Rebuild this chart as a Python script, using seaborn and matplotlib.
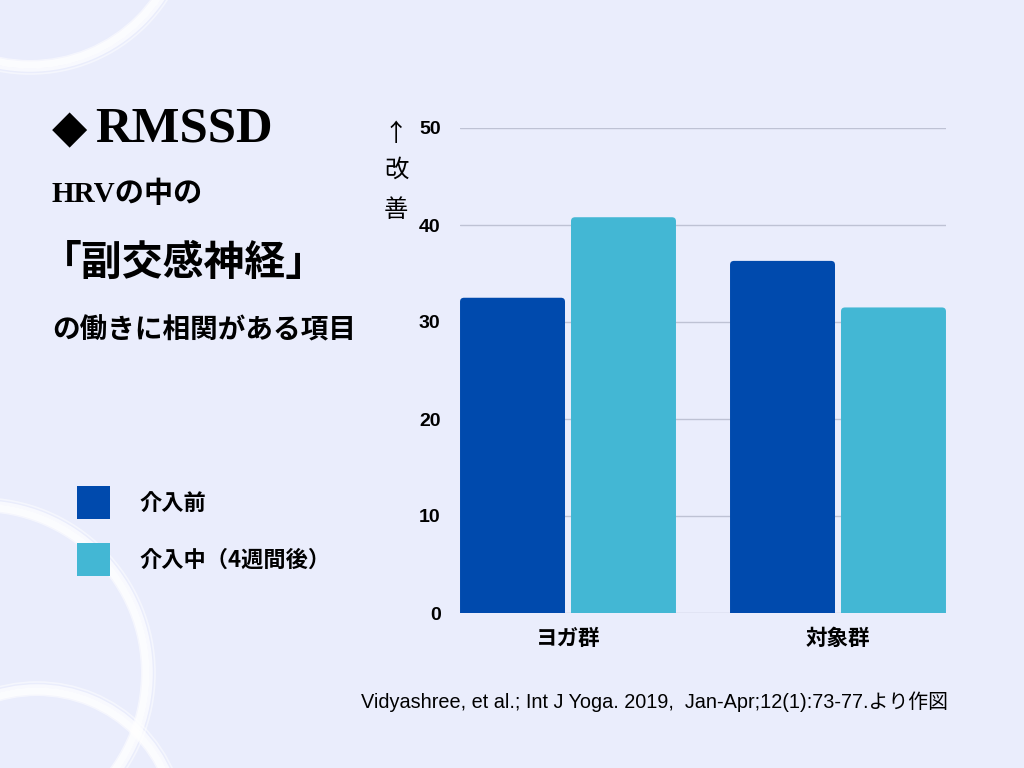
import pandas as pd
import matplotlib.pyplot as plt
import seaborn as sns
from matplotlib.patches import Patch, Arc, FancyBboxPatch

# chart values
groups = ["ヨガ群", "対象群"]
phases = ["介入前", "介入中（4週間後）"]
before = [32.5, 36.3]
after = [40.8, 31.5]
yticks = [0, 10, 20, 30, 40, 50]

bg = "#EAEDFC"
dark_blue = "#004AAD"
light_blue = "#43B7D4"

sns.set_theme(style="white")
plt.rcParams["font.family"] = ["Noto Sans CJK JP", "DejaVu Sans"]
plt.rcParams["text.color"] = "black"

df = pd.DataFrame({
    "group": groups * 2,
    "phase": [phases[0]] * len(groups) + [phases[1]] * len(groups),
    "rmssd": before + after,
})

fig = plt.figure(figsize=(10.24, 7.68), dpi=100)
fig.patch.set_facecolor(bg)

# decorative white brush circles (pixel coordinates)
deco = fig.add_axes([0, 0, 1, 1])
deco.set_xlim(0, 1024)
deco.set_ylim(768, 0)
deco.axis("off")
deco.set_zorder(0)
for cx, cy, r in [(30, -90, 158), (-20, 673, 169), (37, 831, 143)]:
    for dr, lw, a in [(-7, 1.5, 0.55), (-3, 5, 0.85), (2, 2.5, 0.7), (6, 1.2, 0.5)]:
        deco.add_patch(Arc((cx, cy), 2 * (r + dr), 2 * (r + dr), color="white",
                           lw=lw, alpha=a))

# main bar chart
ax = fig.add_axes([460 / 1024, 1 - 613 / 768, 486 / 1024, 485 / 768])
ax.set_zorder(1)
ax.set_facecolor("none")
sns.barplot(data=df, x="group", y="rmssd", hue="phase", order=groups, hue_order=phases,
            palette=[dark_blue, light_blue], saturation=1, width=0.822, gap=0.054,
            linewidth=0, edgecolor="none", legend=False, ax=ax)
ax.set_xlim(-0.4, 1.4)
ax.set_ylim(0, 50)

# give the bars slightly rounded tops (bottom corners hidden below the axis)
x_px = 486 / 1.8
y_px = 485 / 50
for bar in list(ax.patches):
    x, w, h = bar.get_x(), bar.get_width(), bar.get_height()
    rounded = FancyBboxPatch((x, -2), w, h + 2,
                             boxstyle=f"round,pad=0,rounding_size={4 / x_px}",
                             mutation_aspect=x_px / y_px,
                             facecolor=bar.get_facecolor(), edgecolor="none")
    bar.remove()
    ax.add_patch(rounded)

ax.set_yticks(yticks)
ax.set_yticklabels([str(t) for t in yticks], family=["Liberation Sans", "DejaVu Sans"],
                   fontweight="bold", fontsize=14)
ax.set_xticks(range(len(groups)))
ax.set_xticklabels(groups, fontweight="bold", fontsize=15.5)
ax.tick_params(axis="y", length=0, pad=14, colors="black")
ax.tick_params(axis="x", length=0, pad=11, colors="black")
ax.set_xlabel("")
ax.set_ylabel("")
ax.yaxis.grid(True, color="#BEC2D4", lw=1)
ax.xaxis.grid(False)
ax.set_axisbelow(True)
sns.despine(ax=ax, left=True, bottom=True)

# vertical y label
for ch, y in zip(["↑", "改", "善"], [134, 170, 210]):
    fig.text(396 / 1024, 1 - y / 768, ch, fontsize=17.5, ha="center", va="center")

# left-side headings
fig.text(52 / 1024, 1 - 142 / 768, "◆", fontsize=33, fontweight="bold",
         family="DejaVu Serif", va="baseline", ha="left")
fig.text(95 / 1024, 1 - 142 / 768, "RMSSD", fontsize=36.5, fontweight="bold",
         family=["Liberation Serif", "DejaVu Serif"], va="baseline", ha="left")
fig.text(52 / 1024, 1 - 202 / 768, "HRVの中の", fontsize=21, fontweight="bold",
         family=["Liberation Serif", "Noto Sans CJK JP"], va="baseline", ha="left")
fig.text(41 / 1024, 1 - 263 / 768, "「副交感神経」", fontsize=29.4, fontweight="bold",
         va="center", ha="left")
fig.text(52 / 1024, 1 - 330 / 768, "の働きに相関がある項目", fontsize=19.9, fontweight="bold",
         va="center", ha="left")

# legend
handles = [Patch(facecolor=c, edgecolor="none", label=l)
           for c, l in zip([dark_blue, light_blue], phases)]
fig.legend(handles=handles, loc="upper left", bbox_to_anchor=(77 / 1024, 1 - 486 / 768),
           frameon=False, prop={"weight": "bold", "size": 16},
           handlelength=1.5, handleheight=1.91, handletextpad=1.3, labelspacing=1.08,
           borderpad=0, borderaxespad=0)

# citation
fig.text(948 / 1024, 1 - 702 / 768,
         "Vidyashree, et al.; Int J Yoga. 2019,  Jan-Apr;12(1):73-77.より作図",
         fontsize=14.3, family=["Liberation Sans", "Noto Sans CJK JP"],
         ha="right", va="center")

fig.savefig("out.png", dpi=100, facecolor=bg)
